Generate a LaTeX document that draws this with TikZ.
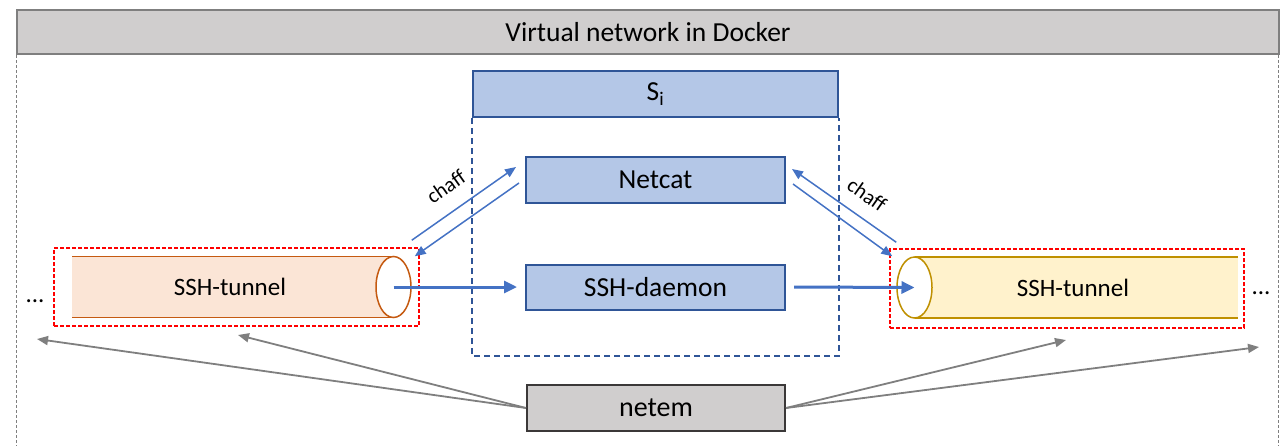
\documentclass[tikz,border=0pt]{standalone}
\usepackage{fontspec}
\setmainfont{Carlito}
\usetikzlibrary{arrows.meta,shapes.geometric}
\definecolor{boxblue}{HTML}{B4C7E7}
\definecolor{edgeblue}{HTML}{2F5597}
\definecolor{arrowblue}{HTML}{4472C4}
\definecolor{bargray}{HTML}{D0CECE}
\definecolor{edgegray}{HTML}{7F7F7F}
\definecolor{darkgray}{HTML}{3B3838}
\definecolor{peach}{HTML}{FBE5D6}
\definecolor{rust}{HTML}{C55A11}
\definecolor{cream}{HTML}{FFF2CC}
\definecolor{gold}{HTML}{BF9000}
\tikzset{
  bar/.style={draw=edgegray,fill=bargray,line width=2pt,minimum width=1262pt,minimum height=44pt,inner sep=0pt,font=\fontsize{27.5}{32}\selectfont},
  frame/.style={edgegray,line width=1pt,dash pattern=on 3pt off 2pt},
  bluebox/.style={draw=edgeblue,fill=boxblue,line width=2pt,minimum width=259pt,minimum height=46pt,inner sep=0pt,font=\fontsize{27.5}{32}\selectfont},
  siframe/.style={edgeblue,line width=1.5pt,dash pattern=on 6pt off 4pt},
  greybox/.style={draw=darkgray,fill=bargray,line width=2pt,minimum width=258pt,minimum height=46pt,inner sep=0pt,font=\fontsize{28}{32}\selectfont},
  redbox/.style={draw=red,line width=1.5pt,dash pattern=on 4pt off 2pt,inner sep=0pt},
  tubeend/.style={ellipse,fill=white,line width=1.5pt,minimum width=35pt,minimum height=61pt,inner sep=0pt},
  tunneltext/.style={font=\fontsize{25}{30}\selectfont,inner sep=0pt},
  chaff/.style={font=\fontsize{21}{24}\selectfont,inner sep=0pt},
  thinarrow/.style={arrowblue,line width=1.5pt,-{Triangle[length=11pt,width=9pt]}},
  fatarrow/.style={arrowblue,line width=3pt,-{Triangle[length=13pt,width=12pt]}},
  greyarrow/.style={edgegray,line width=1.8pt,-{Triangle[length=11pt,width=9pt]}}
}

\begin{document}
\begin{tikzpicture}[x=1pt,y=-1pt]
\useasboundingbox (0,0) rectangle (1286,445);

% docker network
\node[bar] (docker) at (648,32) {Virtual network in Docker};
\draw[frame] (docker.south west) to ++(0,395);
\draw[frame] ([xshift=-2pt]docker.south east) to ++(0,395);

% server S_i
\node[bluebox,minimum width=365pt] (si) at (655.5,94) {S\textsubscript{i}};
\draw[siframe] (si.south west) -- ++(0,238) -| (si.south east);
\node[bluebox] (netcat) at (655.5,180) {Netcat};
\node[bluebox,minimum height=45pt] (daemon) at (655.5,287) {SSH-daemon};
\node[greybox] (netem) at (656,408) {netem};

% left tunnel
\fill[peach] (72,256.5) rectangle (393.5,317.5);
\draw[rust,line width=1.5pt] (72,256.5) -- (393.5,256.5) (72,317.5) -- (393.5,317.5);
\node[tubeend,draw=rust] (endL) at (393.5,287) {};
\node[tunneltext] (tunL) at (230,287) {SSH-tunnel};
\node[redbox,minimum width=365pt,minimum height=78pt] (boxL) at (236.5,287) {};
\node[tunneltext] (moreL) at (35,301) {...};

% right tunnel
\fill[cream] (914.5,257) rectangle (1238,318);
\draw[gold,line width=1.5pt] (914.5,257) -- (1238,257) (914.5,318) -- (1238,318);
\node[tubeend,draw=gold] (endR) at (914.5,287.5) {};
\node[tunneltext] (tunR) at (1073,288) {SSH-tunnel};
\node[redbox,minimum width=354pt,minimum height=79pt] (boxR) at (1067,288.5) {};
\node[tunneltext] (moreR) at (1261,293) {...};

% data path
\draw[fatarrow] (endL.center) to ([xshift=-8pt]daemon.west);
\draw[fatarrow] ([xshift=8pt]daemon.east) to (endR.center);

% chaff
\draw[thinarrow] ([shift={(-8,-7)}]boxL.north east) to ([shift={(-9,-13)}]netcat.west);
\draw[thinarrow] ([shift={(-6,3)}]netcat.west) to ([shift={(-5,9)}]boxL.north east);
\node[chaff,rotate=35] (chaffL) at (446,187) {chaff};
\draw[thinarrow] ([shift={(7,-6)}]boxR.north west) to ([shift={(6,-11)}]netcat.east);
\draw[thinarrow] ([shift={(7,4)}]netcat.east) to ([shift={(3,8)}]boxR.north west);
\node[chaff,rotate=-35] (chaffR) at (867,195) {chaff};

% netem links
\coordinate (tipA) at (37,339);
\coordinate (tipB) at (238,335);
\coordinate (tipC) at (1066,340);
\coordinate (tipD) at (1259,347);
\draw[greyarrow] (netem.west) to (tipA);
\draw[greyarrow] (netem.west) to (tipB);
\draw[greyarrow] (netem.east) to (tipC);
\draw[greyarrow] (netem.east) to (tipD);

\end{tikzpicture}
\end{document}
